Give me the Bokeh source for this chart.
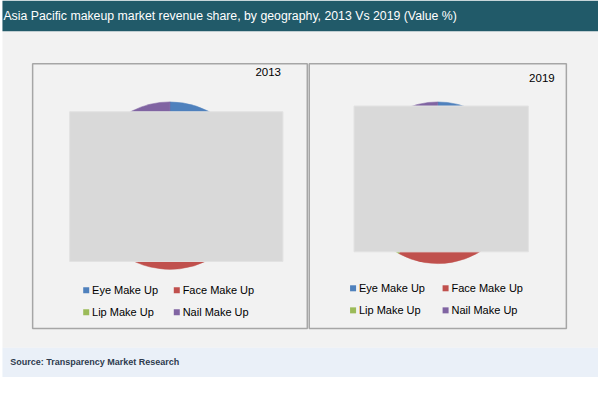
import numpy as np
from bokeh.plotting import figure
from bokeh.models import ColumnDataSource, Range1d
from bokeh.core.properties import value
from bokeh.embed import file_html
from bokeh.resources import INLINE

# ---- data ----
title_text = "Asia Pacific makeup market revenue share, by geography, 2013 Vs 2019 (Value %)"
source_text = "Source: Transparency Market Research"
categories = ["Eye Make Up", "Face Make Up", "Lip Make Up", "Nail Make Up"]
years = ["2013", "2019"]
share_2013 = [20, 45, 20, 15]
share_2019 = [15, 43, 27, 15]
colors = ["#4f81bd", "#c0504d", "#9bbb59", "#8064a2"]

# ---- figure in reference pixel coordinates (614 x 393), scaled to fit ----
W, H = 598, 377
p = figure(width=W, height=H, x_range=Range1d(0, 614), y_range=Range1d(393, 0),
           output_backend="svg", toolbar_location=None, min_border=0,
           x_axis_type=None, y_axis_type=None)
p.xgrid.visible = False
p.ygrid.visible = False
p.outline_line_color = None
p.background_fill_color = "white"
p.border_fill_color = "white"

# backgrounds
p.quad(left=[2], right=[614], top=[32], bottom=[362], fill_color="#f2f2f2", line_color=None)
p.quad(left=[2], right=[614], top=[0], bottom=[32], fill_color="#215a69", line_color=None)
p.quad(left=[2], right=[614], top=[362], bottom=[393], fill_color="#eaf0f8", line_color=None)

# panels
panels = [dict(box=(33, 315, 66, 342), center=(174, 193), r=86, cover=(71, 290, 116, 272),
               year_xy=(288, 75), leg_x=(88, 181), leg_y=(302, 325), shares=share_2013),
          dict(box=(317, 581, 66, 342), center=(449, 190), r=83, cover=(363, 542, 110, 262),
               year_xy=(569, 81), leg_x=(362, 457), leg_y=(300, 323), shares=share_2019)]

FONT = value("Liberation Sans")
for yr, pn in zip(years, panels):
    l, r, t, b = pn["box"]
    p.quad(left=[l], right=[r], top=[t], bottom=[b], fill_color=None,
           line_color="#a6a6a6", line_width=1.5)
    vals = np.array(pn["shares"], dtype=float)
    frac = vals / vals.sum()
    cum = np.concatenate([[0], np.cumsum(frac)])
    start = np.pi / 2 - 2 * np.pi * cum[:-1]
    end = np.pi / 2 - 2 * np.pi * cum[1:]
    src = ColumnDataSource(dict(x=[pn["center"][0]] * len(vals), y=[pn["center"][1]] * len(vals),
                                start=start, end=end, color=colors, cat=categories))
    p.wedge(x="x", y="y", radius=pn["r"], start_angle="start", end_angle="end",
            direction="clock", fill_color="color", line_color="color", line_width=0.5, source=src)
    cl, cr, ct, cb = pn["cover"]
    p.quad(left=[cl], right=[cr], top=[ct], bottom=[cb], fill_color="#d9d9d9",
           line_color="#e2e2e2", line_width=1)
    p.text(x=[pn["year_xy"][0]], y=[pn["year_xy"][1]], text=[yr], text_font=FONT,
           text_font_size=value("11.5px"), text_align="right", text_baseline="middle",
           text_color="black")
    lx = [pn["leg_x"][i % 2] for i in range(len(categories))]
    ly = [pn["leg_y"][i // 2] for i in range(len(categories))]
    p.scatter(x=lx, y=ly, marker="square", size=6, fill_color=colors, line_color=None)
    p.text(x=[v + 6 for v in lx], y=ly, text=categories, text_font=FONT,
           text_font_size=value("11px"), text_align="left", text_baseline="middle",
           text_color="black")

p.text(x=[3], y=[16], text=[title_text], text_font=FONT,
       text_font_size=value("12.3px"), text_align="left", text_baseline="middle",
       text_color="white")
p.text(x=[10], y=[377], text=[source_text], text_font=FONT, text_font_style="bold",
       text_font_size=value("9px"), text_align="left", text_baseline="middle",
       text_color="#2e3b4e")

open("out.html", "w").write(file_html(p, INLINE))
